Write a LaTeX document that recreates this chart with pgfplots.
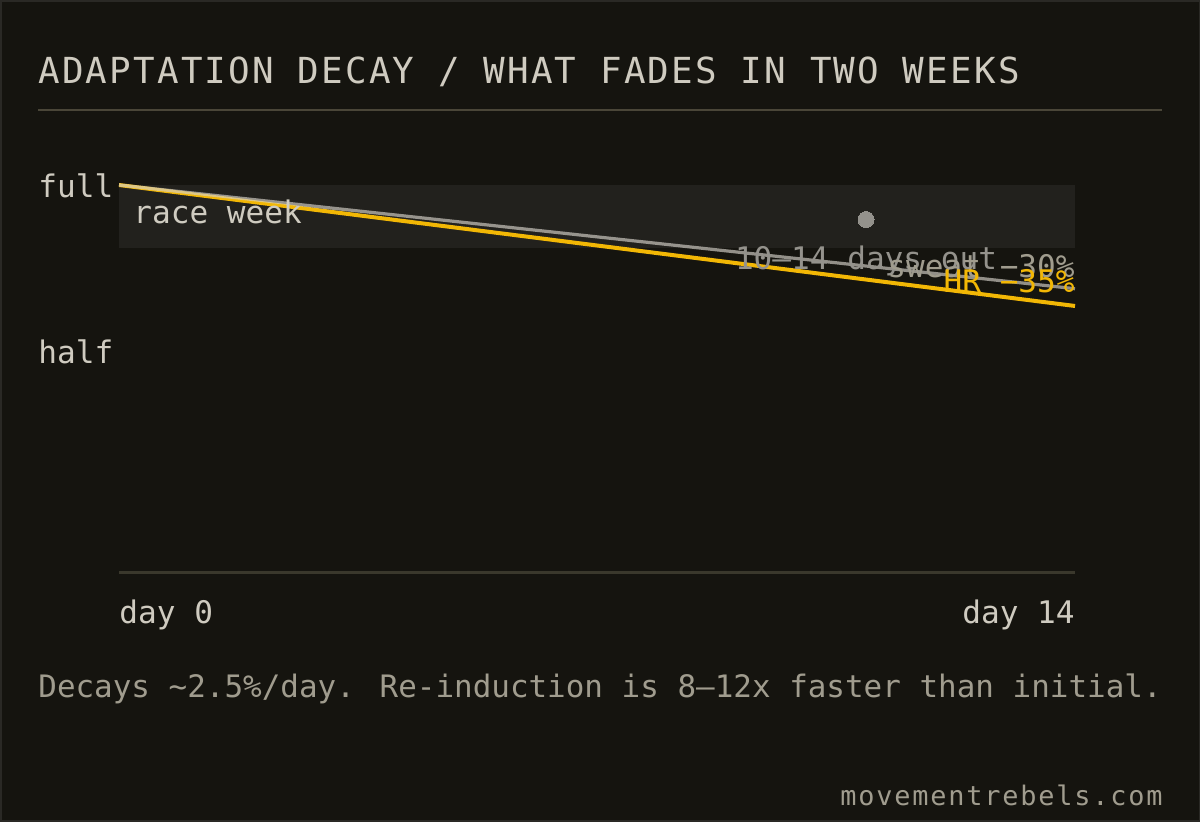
\documentclass[border=0pt]{standalone}
\usepackage{pgfplots}
\pgfplotsset{compat=1.18}
\usepackage{fontspec}
\setmainfont{DejaVu Sans Mono}
\newfontfamily\titlefont[LetterSpace=6.1]{DejaVu Sans Mono}
\newfontfamily\urlfont[LetterSpace=6.7]{DejaVu Sans Mono}

\definecolor{bg}{HTML}{15140F}
\definecolor{frame}{HTML}{2A2925}
\definecolor{band}{HTML}{22211D}
\definecolor{rulec}{HTML}{4A4638}
\definecolor{basec}{HTML}{3A382C}
\definecolor{ink}{HTML}{CFCBC0}
\definecolor{dim}{HTML}{A09C8E}
\definecolor{greyl}{HTML}{94928C}
\definecolor{hr}{HTML}{F2B705}
\definecolor{sweatc}{HTML}{D4D0C8}

\begin{document}
\begin{tikzpicture}[lbl/.style={inner sep=0, font=\fontsize{15.6}{18}\selectfont}]
\begin{scope}[x=0.5bp, y=-0.5bp]
  \fill[bg] (0,0) rectangle (1200,821);
  \draw[frame, line width=1bp] (0.5,0.5) rectangle (1199.5,820.5);
  % title and rule
  \node[anchor=base west, inner sep=0, text=ink, font=\titlefont\fontsize{18}{20}\selectfont]
    at (38,83) {ADAPTATION DECAY / WHAT FADES IN TWO WEEKS};
  \draw[rulec, line width=1bp] (38,110) -- (1162,110);
  % y labels
  \node[lbl, anchor=base west, text=ink] at (38,197) {full};
  \node[lbl, anchor=base west, text=ink] at (38,363) {half};
  \coordinate (sw) at (119,572);
\end{scope}

\begin{axis}[
  at={(sw)}, anchor=south west,
  width=478bp, height=193.5bp, scale only axis,
  xmin=0, xmax=14, ymin=-0.1195, ymax=1,
  axis lines=none, clip=false,
]
  % race week band
  \addplot[draw=none, fill=band] coordinates {(0,0.818) (0,1) (14,1) (14,0.818)} -- cycle;
  % HR
  \addplot[hr, line width=2bp] coordinates {(0,1) (14,0.65)};
  % sweat
  \addplot[sweatc, draw opacity=0.66, line width=1.6bp] coordinates {(0,1) (14,0.70)};
  % marker: 10-14 days out
  \addplot[only marks, mark=*, mark size=4bp, mark options={draw=greyl, fill=greyl, line width=0pt}] coordinates {(10.94,0.90)};
\end{axis}

\begin{scope}[x=0.5bp, y=-0.5bp]
  \draw[basec, line width=1.5bp] (119,572) -- (1075,572);
  \node[lbl, anchor=base west, text=ink] at (133,223) {race week};
  \node[lbl, anchor=base, text=greyl] at (866,269) {10–14 days out};
  \node[lbl, anchor=base east, text=dim] at (1075,277) {sweat −30\%};
  \node[lbl, anchor=base east, text=hr] at (1075,292) {HR −35\%};
  \node[lbl, anchor=base west, text=ink] at (119,623) {day 0};
  \node[lbl, anchor=base east, text=ink] at (1075,623) {day 14};
  \node[anchor=base west, inner sep=0, text=dim, font=\fontsize{15.52}{18}\selectfont] at (38,697)
    {Decays \textasciitilde2.5\%/day. Re-induction is 8–12x faster than initial.};
  \node[anchor=base east, inner sep=0, text=dim, font=\urlfont\fontsize{13.5}{16}\selectfont] at (1163,805) {movementrebels.com};
  \pgfresetboundingbox
  \path[use as bounding box] (0,0) rectangle (1200,821);
\end{scope}
\end{tikzpicture}
\end{document}
